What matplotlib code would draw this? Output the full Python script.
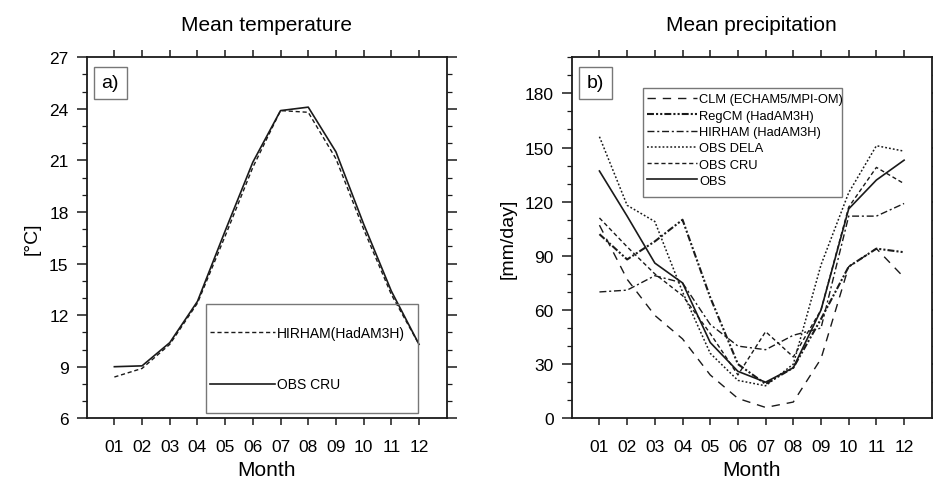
import matplotlib
matplotlib.use('Agg')
import matplotlib.pyplot as plt
from matplotlib.patches import Rectangle
from matplotlib.ticker import MultipleLocator

plt.rcParams['font.family'] = ['Liberation Sans', 'DejaVu Sans']
plt.rcParams['lines.scale_dashes'] = False

months = list(range(1, 13))
month_labels = ['%02d' % m for m in months]

# panel a) mean temperature [degC]
temp_hirham = [8.4, 8.9, 10.3, 12.7, 16.6, 20.6, 23.9, 23.8, 21.1, 17.0, 13.2, 10.3]
temp_obs_cru = [9.0, 9.05, 10.4, 12.8, 16.9, 20.9, 23.9, 24.1, 21.5, 17.3, 13.4, 10.3]

# panel b) mean precipitation
pr_clm = [107, 77, 57, 44, 24, 11, 6, 9, 33, 84, 94, 78]
pr_regcm = [102, 88, 98, 110, 67, 30, 19, 28, 55, 84, 94, 92]
pr_hirham = [70, 71, 79, 75, 52, 40, 38, 46, 50, 112, 112, 119]
pr_dela = [156, 118, 109, 70, 36, 21, 18, 30, 85, 125, 151, 148]
pr_cru = [111, 95, 80, 68, 47, 24, 48, 34, 60, 117, 139, 130]
pr_obs = [137, 112, 86, 75, 42, 26, 20, 28, 60, 116, 132, 143]

ink = '#1a1a1a'
fig = plt.figure(figsize=(9.33, 4.85), dpi=100)
ax1 = fig.add_axes([0.0929, 0.1355, 0.3859, 0.7443])
ax2 = fig.add_axes([0.6128, 0.1355, 0.3859, 0.7443])


def style(ax, ymin, ymax, major, minor, ylabel, title, tag):
    ax.set_xlim(0, 13)
    ax.set_ylim(ymin, ymax)
    ax.set_xticks(months)
    ax.set_xticklabels(month_labels)
    ax.yaxis.set_major_locator(MultipleLocator(major))
    ax.yaxis.set_minor_locator(MultipleLocator(minor))
    ax.tick_params(which='both', direction='out', top=True, right=True, color=ink)
    ax.tick_params(axis='x', which='major', length=5, width=1.1, pad=10, labelsize=12.5)
    ax.tick_params(axis='y', which='major', length=7, width=1.1, pad=6, labelsize=12.5)
    ax.tick_params(axis='y', which='minor', length=3.5, width=0.9)
    for s in ax.spines.values():
        s.set_linewidth(1.3)
        s.set_color(ink)
    ax.set_xlabel('Month', fontsize=15, labelpad=4)
    ax.set_ylabel(ylabel, fontsize=14, labelpad=6)
    ax.set_title(title, fontsize=15, pad=20)
    ax.text(0.065, 0.929, tag, transform=ax.transAxes, fontsize=14,
            ha='center', va='center',
            bbox=dict(boxstyle='square,pad=0.4', fc='white', ec='#777777', lw=1))


# panel a
ax1.plot(months, temp_hirham, color=ink, lw=1.0, ls=(0, (3, 2)), label='HIRHAM(HadAM3H)')
ax1.plot(months, temp_obs_cru, color=ink, lw=1.2, ls='-', label='OBS CRU')
style(ax1, 6, 27, 3, 1, '[°C]', 'Mean temperature', 'a)')
ax1.add_patch(Rectangle((0.331, 0.015), 0.59, 0.302, transform=ax1.transAxes,
                        fill=False, ec='#777777', lw=1, zorder=3))
ax1.legend(loc='upper left', bbox_to_anchor=(0.3425, 0.256), frameon=False,
           fontsize=10, handlelength=4.7, handletextpad=0.15, labelspacing=2.7,
           borderpad=0, borderaxespad=0)

# panel b
ax2.plot(months, pr_clm, color=ink, lw=1.0, ls=(0, (6, 5)), label='CLM (ECHAM5/MPI-OM)')
ax2.plot(months, pr_regcm, color=ink, lw=1.5, ls=(0, (5, 1.5, 1.5, 1.5, 1.5, 1.5)),
         label='RegCM (HadAM3H)')
ax2.plot(months, pr_hirham, color=ink, lw=1.0, ls=(0, (5, 2, 1.5, 2)), label='HIRHAM (HadAM3H)')
ax2.plot(months, pr_dela, color=ink, lw=1.1, ls=(0, (1.3, 1.5)), label='OBS DELA')
ax2.plot(months, pr_cru, color=ink, lw=1.0, ls=(0, (3, 2)), label='OBS CRU')
ax2.plot(months, pr_obs, color=ink, lw=1.2, ls='-', label='OBS')
style(ax2, 0, 200, 30, 10, '[mm/day]', 'Mean precipitation', 'b)')
ax2.add_patch(Rectangle((0.197, 0.612), 0.553, 0.302, transform=ax2.transAxes,
                        fc='white', ec='#777777', lw=1, zorder=3))
leg = ax2.legend(loc='upper left', bbox_to_anchor=(0.208, 0.9), frameon=False,
                 fontsize=9.3, handlelength=3.9, handletextpad=0.15, labelspacing=0.33,
                 borderpad=0, borderaxespad=0)
leg.set_zorder(4)

fig.savefig('out.png', dpi=100)
